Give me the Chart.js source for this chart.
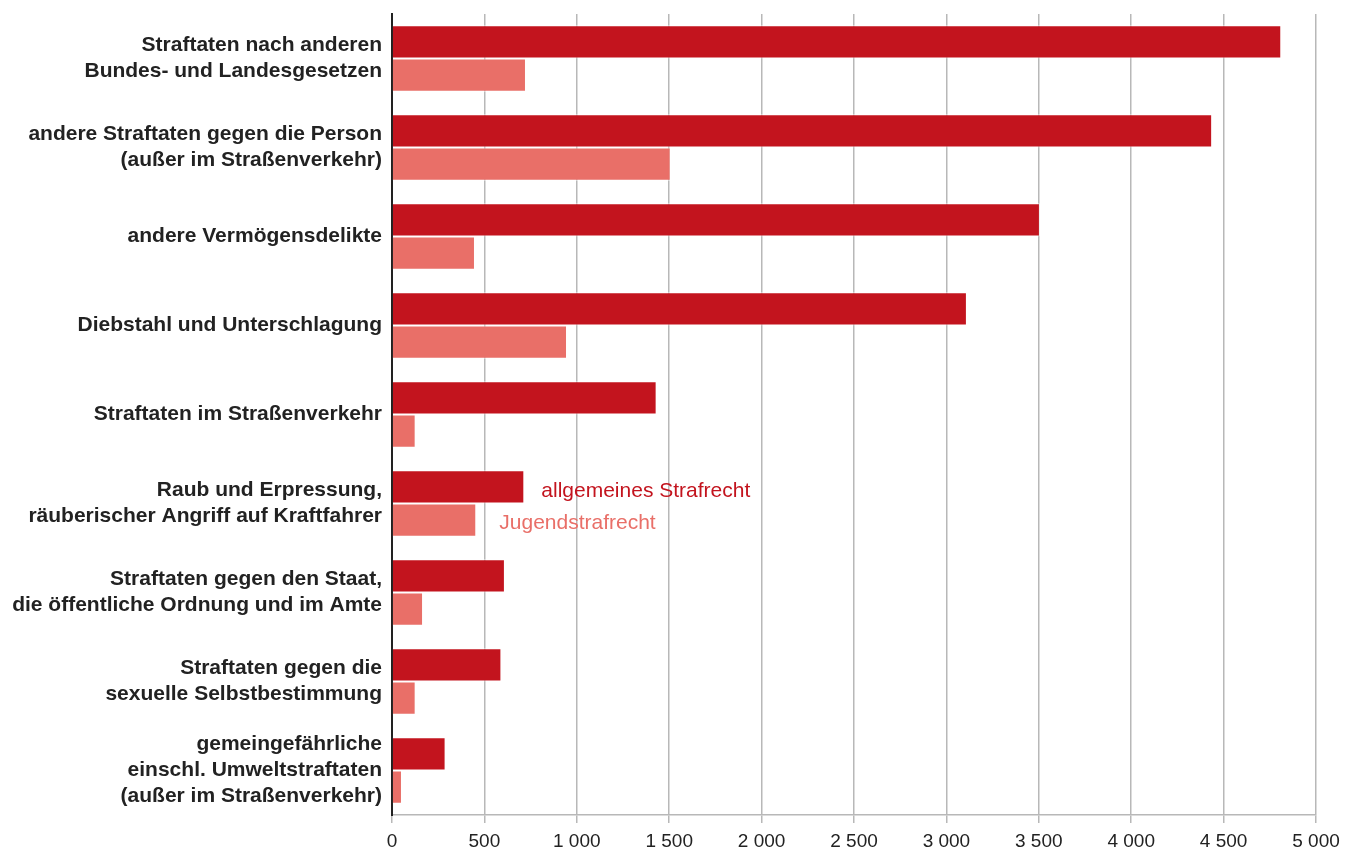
<!DOCTYPE html>
<html>
<head>
<meta charset="utf-8">
<script src="https://cdn.jsdelivr.net/npm/chart.js@4.4.1/dist/chart.umd.min.js"></script>
<style>
  body { margin: 0; background: #fff; }
  canvas { display: block; }
</style>
</head>
<body>
<canvas id="canvas-1" width="1346" height="853"></canvas>
<script>
// Kategorien (mehrzeilig wie im Original)
const kategorien = [
    ['Straftaten nach anderen', 'Bundes- und Landesgesetzen'],
    ['andere Straftaten gegen die Person', '(außer im Straßenverkehr)'],
    'andere Vermögensdelikte',
    'Diebstahl und Unterschlagung',
    'Straftaten im Straßenverkehr',
    ['Raub und Erpressung,', 'räuberischer Angriff auf Kraftfahrer'],
    ['Straftaten gegen den Staat,', 'die öffentliche Ordnung und im Amte'],
    ['Straftaten gegen die', 'sexuelle Selbstbestimmung'],
    ['gemeingefährliche', 'einschl. Umweltstraftaten', '(außer im Straßenverkehr)']
];

const allgemeinesStrafrecht = [4812, 4438, 3506, 3111, 1432, 716, 611, 592, 290];
const jugendstrafrecht = [725, 1508, 449, 947, 128, 456, 168, 128, 54];

const xTicks = [0, 500, 1000, 1500, 2000, 2500, 3000, 3500, 4000, 4500, 5000];

const dunkelRot = '#c3141e';
const hellRot = '#e96f68';

// Beschriftung der Reihen neben den Balken von "Raub und Erpressung"
const reihenLabel = {
    id: 'reihenLabel',
    afterDatasetsDraw(chart) {
        const ctx = chart.ctx;
        const idx = 5;
        const a = chart.getDatasetMeta(0).data[idx];
        const b = chart.getDatasetMeta(1).data[idx];
        ctx.save();
        ctx.font = '21px "Liberation Sans", Arial, sans-serif';
        ctx.textBaseline = 'middle';
        ctx.fillStyle = dunkelRot;
        ctx.fillText('allgemeines Strafrecht', a.x + 17, a.y + 4);
        ctx.fillStyle = hellRot;
        ctx.fillText('Jugendstrafrecht', b.x + 23, b.y + 3);
        ctx.restore();
    }
};

const ctx = document.getElementById('canvas-1').getContext('2d');

let chart = new Chart(ctx, {
    type: 'bar',
    data: {
        labels: kategorien,
        datasets: [{
            label: 'allgemeines Strafrecht',
            data: allgemeinesStrafrecht,
            backgroundColor: dunkelRot,
            borderColor: 'rgba(255,255,255,0.7)',
            borderWidth: 1,
            barPercentage: 1,
            categoryPercentage: 0.745
        }, {
            label: 'Jugendstrafrecht',
            data: jugendstrafrecht,
            backgroundColor: hellRot,
            borderColor: 'rgba(255,255,255,0.7)',
            borderWidth: 1,
            barPercentage: 1,
            categoryPercentage: 0.745
        }]
    },
    options: {
        indexAxis: 'y',
        responsive: false,
        animation: false,
        layout: { padding: { top: 14, right: 30, bottom: 0, left: 0 } },
        plugins: {
            legend: { display: false },
            tooltip: { enabled: false }
        },
        scales: {
            x: {
                min: 0,
                max: 5000,
                afterBuildTicks: (scale) => {
                    scale.ticks = xTicks.map(v => ({ value: v }));
                },
                afterFit: (scale) => {
                    scale.height = 38;
                    scale.paddingLeft = 0;
                    scale.paddingRight = 0;
                },
                grid: {
                    color: '#b8b8b8',
                    lineWidth: 1.5,
                    tickLength: 8
                },
                border: { color: '#b8b8b8', width: 1.5 },
                ticks: {
                    color: '#222',
                    padding: 7,
                    maxRotation: 0,
                    font: { family: '"Liberation Sans", Arial, sans-serif', size: 19 },
                    callback: (v) => String(v).replace(/\B(?=(\d{3})+(?!\d))/g, ' ')
                }
            },
            y: {
                afterFit: (scale) => {
                    scale.width = 392;
                    scale.paddingTop = 0;
                    scale.paddingBottom = 0;
                },
                grid: { color: 'rgba(0,0,0,0)', drawTicks: false, tickLength: 0 },
                border: { display: true, color: '#222', width: 2 },
                ticks: {
                    color: '#222',
                    padding: 10,
                    font: { family: '"Liberation Sans", Arial, sans-serif', size: 21, weight: 'bold', lineHeight: 1.24 }
                }
            }
        }
    },
    plugins: [reihenLabel]
});
</script>
</body>
</html>
